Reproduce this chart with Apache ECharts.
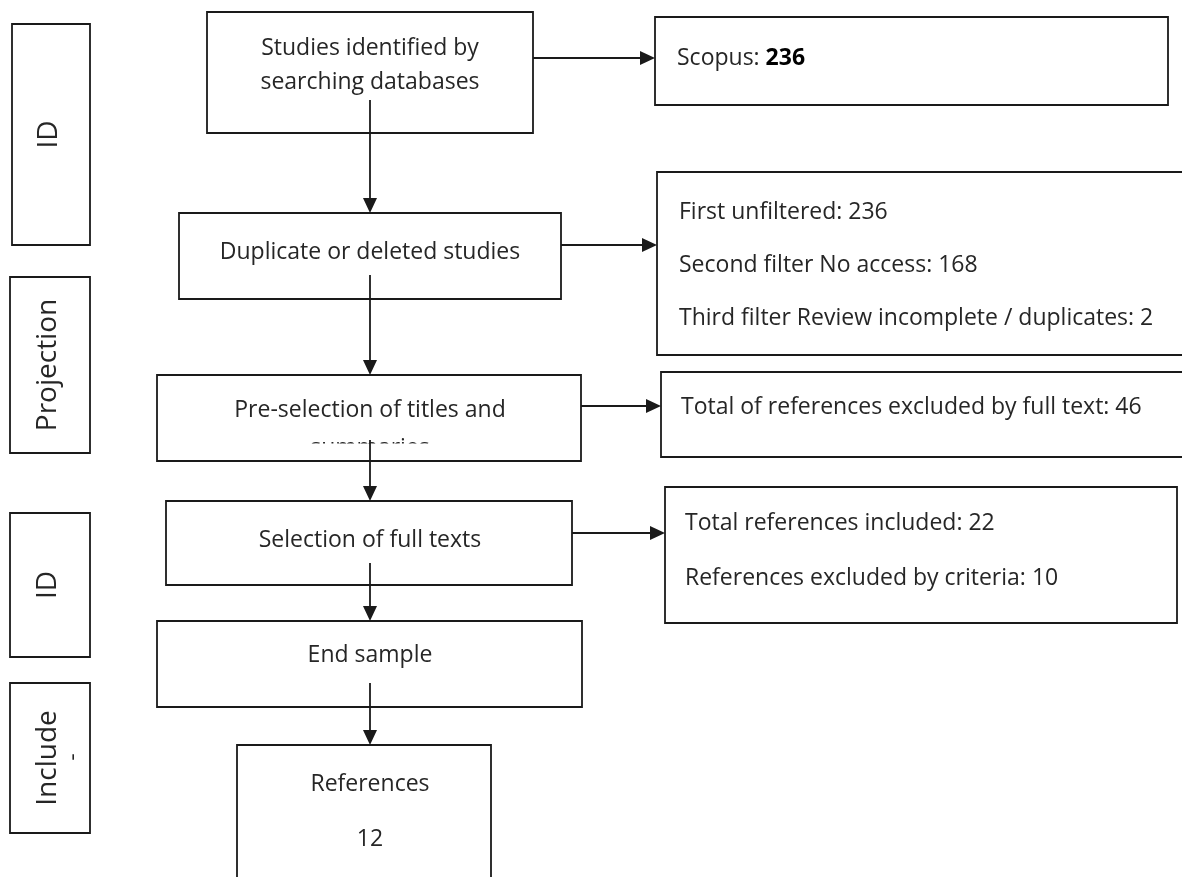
<!DOCTYPE html>
<html>
<head>
<meta charset="utf-8">
<script src="https://cdn.jsdelivr.net/npm/echarts@6/dist/echarts.min.js"></script>
<style>
html,body{margin:0;padding:0;background:#fff;}
#chart{width:1182px;height:877px;}
</style>
</head>
<body>
<div id="chart"></div>
<script>
// ---- content ----
const stageLabels = ['ID', 'Projection', 'ID', 'Include'];
const stepLabels = [
  'Studies identified by\nsearching databases',
  'Duplicate or deleted studies',
  'Pre-selection of titles and',
  'Selection of full texts',
  'End sample',
  'References'
];
const hiddenLine = 'summaries';
const scopusLabel = 'Scopus: ';
const scopusCount = 236;
const filterLabels = ['First unfiltered', 'Second filter No access', 'Third filter Review incomplete / duplicates'];
const filterCounts = [236, 168, 2];
const excludedLabel = 'Total of references excluded by full text';
const excludedCount = 46;
const includedLabels = ['Total references included', 'References excluded by criteria'];
const includedCounts = [22, 10];
const finalCount = 12;

// ---- layout (pixels) ----
const stageBoxes = [[12, 24, 78, 221], [10, 277, 80, 176], [10, 513, 80, 144], [10, 683, 80, 150]];
const stepBoxes = [[207, 12, 326, 121], [179, 213, 382, 86], [157, 375, 424, 86], [166, 501, 406, 84], [157, 621, 425, 86], [237, 745, 254, 160]];
const sideBoxes = [[655, 17, 513, 88], [657, 172, 540, 183], [661, 372, 540, 85], [665, 487, 512, 136]];
const axisX = 370;
const downStarts = [100, 275, 440, 563, 683];
const sideArrowY = [58, 245, 406, 533];

const FONT = '"Open Sans", "Noto Sans", sans-serif';
const INK = '#1a1a1a';
const TXT = '#262626';
const LW = 1.8;
const FS = 23;
const SFS = 28;

const els = [];
function box(b) {
  els.push({type: 'rect', shape: {x: b[0], y: b[1], width: b[2], height: b[3]},
    style: {fill: '#fff', stroke: INK, lineWidth: LW}, z: 1});
}
function text(str, x, y, size, opts) {
  opts = opts || {};
  els.push({type: 'text', x: x, y: y, rotation: opts.rotation || 0, z: opts.z || 3,
    style: {text: str, x: 0, y: 0, fill: TXT, font: (opts.weight || 'normal') + ' ' + size + 'px ' + FONT,
      textAlign: opts.align || 'center', textVerticalAlign: 'middle', lineHeight: opts.lineHeight || 34,
      rich: opts.rich}});
}
function arrowDown(x, y1, y2) {
  els.push({type: 'line', shape: {x1: x, y1: y1, x2: x, y2: y2 - 14}, style: {stroke: INK, lineWidth: LW}, z: 4});
  els.push({type: 'polygon', shape: {points: [[x - 7, y2 - 15], [x + 7, y2 - 15], [x, y2]]}, style: {fill: INK}, z: 4});
}
function arrowRight(x1, x2, y) {
  els.push({type: 'line', shape: {x1: x1, y1: y, x2: x2 - 14, y2: y}, style: {stroke: INK, lineWidth: LW}, z: 4});
  els.push({type: 'polygon', shape: {points: [[x2 - 15, y - 7], [x2 - 15, y + 7], [x2, y]]}, style: {fill: INK}, z: 4});
}

// stage boxes (left)
stageBoxes.forEach(function (b, i) {
  box(b);
  text(stageLabels[i], b[0] + b[2] / 2 - 2, b[1] + b[3] / 2, SFS, {rotation: Math.PI / 2});
});
text('-', 73, 757, 22, {rotation: Math.PI / 2});

// main steps
stepBoxes.forEach(function (b) { box(b); });
text(stepLabels[0], axisX, 65, FS);
text(stepLabels[1], axisX, 252, FS);
text(hiddenLine, axisX, 448, FS);
els.push({type: 'rect', shape: {x: 158.5, y: 443.5, width: 421, height: 16.5}, style: {fill: '#fff'}, z: 3.5});
text(stepLabels[2], axisX, 410, FS);
text(stepLabels[3], axisX, 540, FS);
text(stepLabels[4], axisX, 655, FS);
text(stepLabels[5], axisX, 784, FS);
text(String(finalCount), axisX, 839, FS);

// connectors
const nextTops = stepBoxes.slice(1).map(function (b) { return b[1]; });
downStarts.forEach(function (s, i) { arrowDown(axisX, s, nextTops[i]); });
sideArrowY.forEach(function (y, i) {
  arrowRight(stepBoxes[i][0] + stepBoxes[i][2], sideBoxes[i][0], y);
});

// side boxes
sideBoxes.forEach(function (b) { box(b); });
text('{n|' + scopusLabel + '}{b|' + scopusCount + '}', 677, 58, FS, {align: 'left',
  rich: {n: {font: 'normal ' + FS + 'px ' + FONT, fill: TXT}, b: {font: 'bold ' + FS + 'px ' + FONT, fill: '#000'}}});
filterLabels.forEach(function (l, i) {
  text(l + ': ' + filterCounts[i], 679, 212 + i * 53, FS, {align: 'left'});
});
text(excludedLabel + ': ' + excludedCount, 681, 407, FS, {align: 'left'});
includedLabels.forEach(function (l, i) {
  text(l + ': ' + includedCounts[i], 685, 523 + i * 55, FS, {align: 'left'});
});

const chart = echarts.init(document.getElementById('chart'));
chart.setOption({backgroundColor: '#fff', animation: false, graphic: {elements: els}});
</script>
</body>
</html>
